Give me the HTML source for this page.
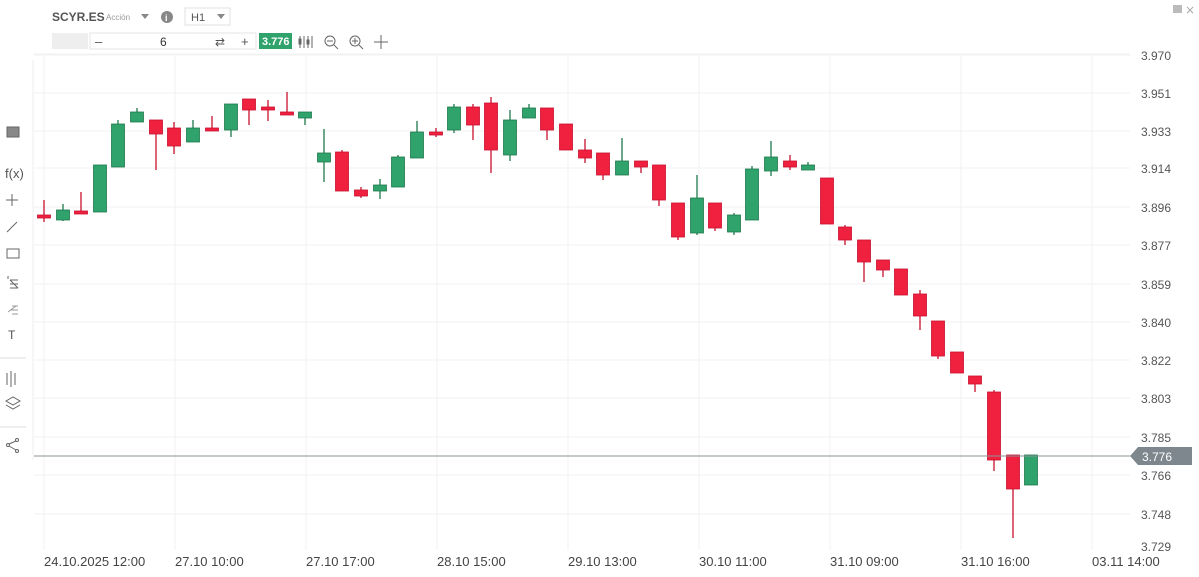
<!DOCTYPE html>
<html><head><meta charset="utf-8"><style>
body{margin:0;width:1199px;height:577px;overflow:hidden;background:#fff;font-family:"Liberation Sans",sans-serif;position:relative}
</style></head><body>
<svg width="1199" height="577" style="position:absolute;left:0;top:0" id="s" xmlns="http://www.w3.org/2000/svg">
<rect x="0" y="0" width="1199" height="577" fill="#fff"/>
<g stroke="#f2f2f2" stroke-width="1" id="grid"></g>
<line x1="33" y1="60" x2="33" y2="460" stroke="#eee"/>
<g id="c"></g>
<line x1="34" y1="456" x2="1130" y2="456" stroke="#8a9499" stroke-width="1"/>
<polygon points="1130,456 1138,447 1192,447 1192,465 1138,465" fill="#7d878d"/>
<text x="1142" y="461" font-size="12" fill="#fff" font-family="Liberation Sans">3.776</text>
<g font-family="Liberation Sans" font-size="12" fill="#555">
<text x="1141" y="60">3.970</text><text x="1141" y="98">3.951</text><text x="1141" y="136">3.933</text>
<text x="1141" y="173">3.914</text><text x="1141" y="212">3.896</text><text x="1141" y="250">3.877</text>
<text x="1141" y="289">3.859</text><text x="1141" y="327">3.840</text><text x="1141" y="365">3.822</text>
<text x="1141" y="403">3.803</text><text x="1141" y="442">3.785</text><text x="1141" y="480">3.766</text>
<text x="1141" y="519">3.748</text><text x="1141" y="551">3.729</text>
</g>
<g font-family="Liberation Sans" font-size="13" fill="#444">
<text x="44" y="566">24.10.2025 12:00</text><text x="175" y="566">27.10 10:00</text>
<text x="306" y="566">27.10 17:00</text><text x="437" y="566">28.10 15:00</text>
<text x="568" y="566">29.10 13:00</text><text x="699" y="566">30.10 11:00</text>
<text x="830" y="566">31.10 09:00</text><text x="961" y="566">31.10 16:00</text>
<text x="1092" y="566">03.11 14:00</text>
</g>
<text x="52" y="21" font-family="Liberation Sans" font-size="12" font-weight="bold" fill="#555">SCYR.ES</text>
<text x="106" y="20" font-family="Liberation Sans" font-size="8" fill="#999">Acción</text>
<polygon points="141,14 149,14 145,19" fill="#888"/>
<circle cx="167" cy="17" r="6" fill="#888"/><text x="165" y="21" font-size="9" fill="#fff" font-family="Liberation Sans" font-weight="bold">i</text>
<rect x="185" y="8" width="45" height="17" fill="#fff" stroke="#e2e2e2"/>
<text x="191" y="21" font-family="Liberation Sans" font-size="11" fill="#555">H1</text>
<polygon points="217,14 225,14 221,19" fill="#888"/>
<rect x="52" y="33" width="36" height="16" fill="#eee"/>
<rect x="90" y="33" width="166" height="16" fill="#fff" stroke="#e6e6e6"/>
<text x="95" y="46" font-size="13" fill="#555" font-family="Liberation Sans">–</text>
<text x="160" y="46" font-size="12" fill="#333" font-family="Liberation Sans">6</text>
<text x="215" y="46" font-size="12" fill="#555" font-family="DejaVu Sans">⇄</text>
<text x="241" y="46" font-size="13" fill="#555" font-family="Liberation Sans">+</text>
<rect x="259" y="33" width="33" height="16" fill="#2fa36b"/>
<text x="262" y="45" font-size="11" font-weight="bold" fill="#fff" font-family="Liberation Sans">3.776</text>
<g stroke="#666" fill="none">
<line x1="300" y1="36" x2="300" y2="48"/><line x1="304" y1="36" x2="304" y2="48"/><line x1="308" y1="36" x2="308" y2="48"/><line x1="312" y1="36" x2="312" y2="48"/>
<rect x="299" y="39" width="2" height="5"/><rect x="307" y="40" width="2" height="4"/>
<circle cx="330" cy="41" r="5"/><line x1="327" y1="41" x2="333" y2="41"/><line x1="334" y1="45" x2="338" y2="49"/>
<circle cx="355" cy="41" r="5"/><line x1="352" y1="41" x2="358" y2="41"/><line x1="355" y1="38" x2="355" y2="44"/><line x1="359" y1="45" x2="363" y2="49"/>
<line x1="374" y1="42" x2="388" y2="42"/><line x1="381" y1="35" x2="381" y2="49"/>
</g>
<line x1="34" y1="54" x2="1130" y2="54" stroke="#f2f2f2"/>
<g stroke="#666" fill="none">
<rect x="7" y="127" width="12" height="10" fill="#888"/>
<line x1="6" y1="200" x2="18" y2="200"/><line x1="12" y1="194" x2="12" y2="206"/>
<line x1="7" y1="232" x2="17" y2="222"/>
<rect x="7" y="249" width="12" height="9"/>
<path d="M8,276 v3 M10,280 h8 M10,284 h8 M10,288 h8 M10,280 l8,8"/>
<path d="M8,312 l8,-6 M10,310 h8 M12,306 h6 M12,314 h6" stroke="#999"/>
<path d="M7,373 v12 M11,371 v16 M15,373 v12"/>
<line x1="0" y1="358" x2="26" y2="358" stroke="#ddd"/>
<line x1="0" y1="427" x2="26" y2="427" stroke="#ddd"/>
<circle cx="8" cy="445" r="1.5"/><circle cx="17" cy="440" r="1.5"/><circle cx="17" cy="451" r="1.5"/>
<line x1="9" y1="444" x2="16" y2="441"/><line x1="9" y1="446" x2="16" y2="450"/>
<path d="M6,401 l7,-4 l7,4 l-7,4z M6,405 l7,4 l7,-4"/>
</g>
<text x="5" y="178" font-size="13" fill="#555" font-family="Liberation Sans">f(x)</text>
<text x="8" y="339" font-size="12" fill="#555" font-family="Liberation Sans">T</text>
<rect x="1173" y="5" width="9" height="8" fill="#bbb"/>
<text x="1185" y="14" font-size="12" fill="#aaa" font-family="DejaVu Sans">×</text>
</svg>
<script>
var g=document.getElementById('grid'),ns="http://www.w3.org/2000/svg";
[44,175,306,437,568,699,830,961,1092].forEach(function(x){var l=document.createElementNS(ns,'line');l.setAttribute('x1',x);l.setAttribute('x2',x);l.setAttribute('y1',56);l.setAttribute('y2',550);g.appendChild(l);});
[55,93,131,168,207,245,284,322,360,398,437,475,514].forEach(function(y){var l=document.createElementNS(ns,'line');l.setAttribute('x1',34);l.setAttribute('x2',1130);l.setAttribute('y1',y);l.setAttribute('y2',y);g.appendChild(l);});
var d=[[44,215,217,200,222],[63,220,210,204,221],[81,211,213,192,214],[100,212,165,165,212],[118,167,124,120,167],[137,122,112,108,122],
[156,120,134,120,170],[174,128,146,122,154],[193,142,128,120,142],[212,128,130,116,131],[231,130,104,104,137],[249,99,110,99,125],
[268,107,110,100,121],[287,112,115,92,115],[305,118,112,112,125],[324,162,153,129,182],[342,152,191,150,191],[361,190,196,187,198],
[380,191,185,179,199],[398,187,157,155,187],[417,158,132,121,158],[436,132,135,128,137],[454,130,107,104,133],[473,107,125,104,140],
[491,103,150,97,173],[510,155,120,110,161],[529,118,108,104,118],[547,108,130,108,140],[566,124,150,124,150],[585,150,158,139,163],
[603,153,175,153,180],[622,175,161,138,175],[641,161,167,161,173],[659,165,200,165,206],[678,203,237,203,240],[697,233,198,175,235],
[715,203,228,203,231],[734,232,215,213,235],[752,220,169,166,220],[771,171,157,141,176],[790,161,167,155,170],[808,170,165,162,170],
[827,178,224,178,224],[845,227,240,225,245],[864,240,262,240,282],[883,260,270,260,277],[901,269,295,269,295],[920,294,316,290,330],
[938,321,356,321,359],[957,352,373,352,373],[975,376,384,376,392],[994,392,460,390,471],[1013,455,489,455,538],[1031,485,455,455,485]];
var c=document.getElementById('c');
d.forEach(function(k){var up=k[2]<k[1],col=up?'#2fa36b':'#f0213f',st=up?'#1f7a4d':'#c8102e';
var w=document.createElementNS(ns,'line');w.setAttribute('x1',k[0]);w.setAttribute('x2',k[0]);w.setAttribute('y1',k[3]);w.setAttribute('y2',k[4]);w.setAttribute('stroke',st);w.setAttribute('stroke-width',1.3);c.appendChild(w);
var t=Math.min(k[1],k[2]),h=Math.max(Math.abs(k[1]-k[2]),3);
var r=document.createElementNS(ns,'rect');r.setAttribute('x',k[0]-6.5);r.setAttribute('y',t);r.setAttribute('width',13);r.setAttribute('height',h);r.setAttribute('fill',col);r.setAttribute('stroke',st);r.setAttribute('stroke-width',0.8);c.appendChild(r);});
</script>
</body></html>
